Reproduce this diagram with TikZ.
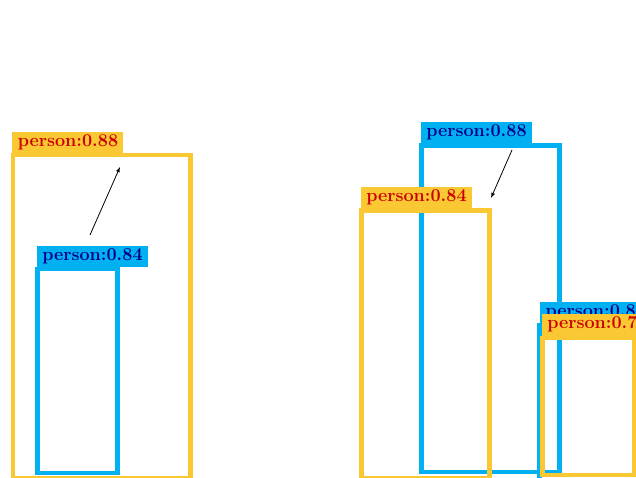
\documentclass[tikz,border=0pt]{standalone}
\usepackage{tikz}
\usetikzlibrary{arrows,positioning}
\definecolor{boxgelb}{RGB}{249,200,50}
\definecolor{boxblau}{RGB}{0,176,240}
\definecolor{textrot}{RGB}{204,0,0}
\definecolor{textblau}{RGB}{0,0,140}

\begin{document}
\begin{tikzpicture}[x=1pt,y=-1pt,
  gelbbox/.style={draw=boxgelb,line width=4.5pt},
  blaubox/.style={draw=boxblau,line width=4.5pt},
  marke/.style={anchor=south west,inner sep=0pt,minimum width=111pt,minimum height=21pt,font=\fontsize{18}{20}\selectfont\bfseries},
  gelbmarke/.style={marke,fill=boxgelb,text=textrot},
  blaumarke/.style={marke,fill=boxblau,text=textblau}]
\useasboundingbox (0,0) rectangle (636,478);
%Erst die blauen Boxen, die gelben liegen darueber
\foreach \xa/\ya/\xb/\yb in {37.5/269/117.5/473, 421.5/145.5/559.5/472, 539.5/325/690/490}{
\draw[blaubox] (\xa,\ya) rectangle (\xb,\yb);
}
\node[blaumarke] (b84) at (36.75,266.75) {person:0.84};
\node[blaumarke] (b88) at (420.75,143.25) {person:0.88};
\node[blaumarke] (b80) at (540,322.75) {person:0.80};
%gelbe Boxen
\foreach \xa/\ya/\xb/\yb in {13/155/190.5/478.5, 361.5/210.5/489.5/478.5, 542.5/338/634/475}{
\draw[gelbbox] (\xa,\ya) rectangle (\xb,\yb);
}
\node[gelbmarke] (g88) at (12.25,152.75) {person:0.88};
\node[gelbmarke] (g84) at (360.75,208.25) {person:0.84};
\node[gelbmarke,minimum height=22pt] (g70) at (541.75,335.75) {person:0.70};
%Pfeile
\coordinate (p1a) at (90,235);
\coordinate (p1b) at (120,167);
\coordinate (p2a) at (512,150);
\coordinate (p2b) at (491,198);
\draw[-latex,line width=0.8pt] (p1a) -- (p1b);
\draw[-latex,line width=0.8pt] (p2a) -- (p2b);
\end{tikzpicture}
\end{document}
